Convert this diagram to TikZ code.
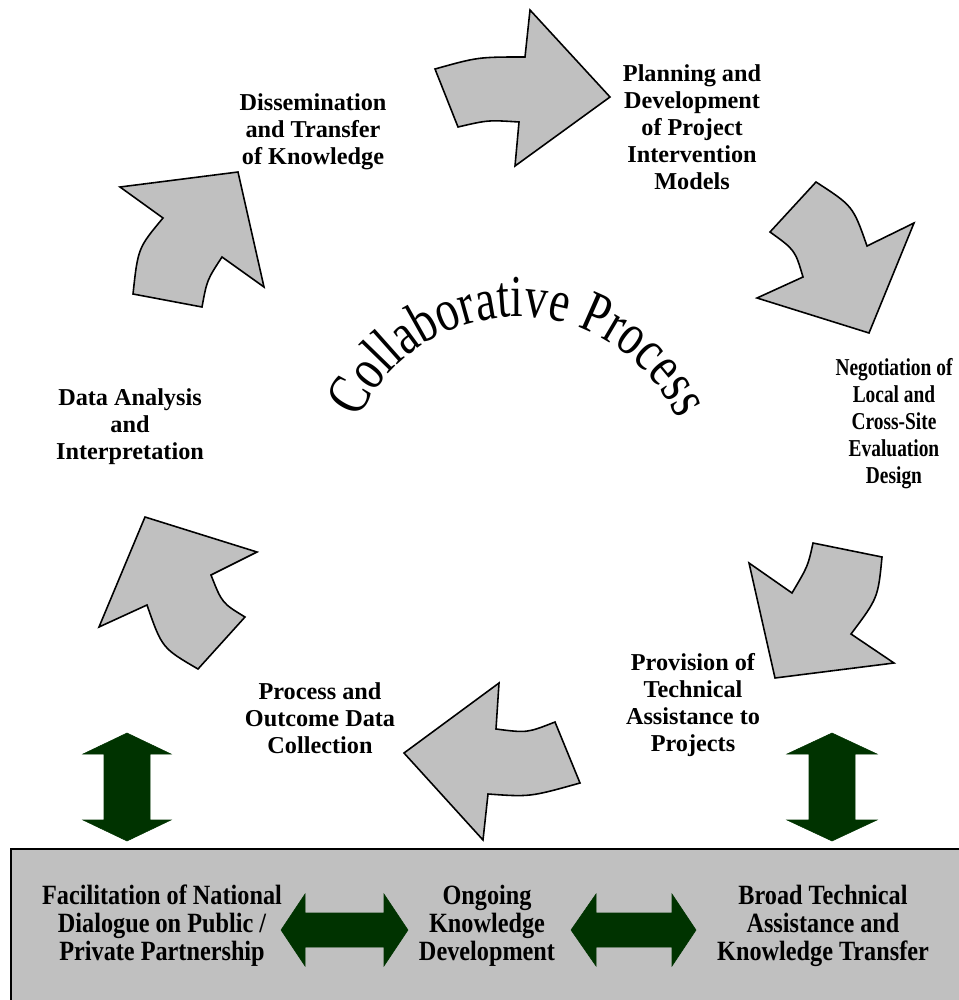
\documentclass[tikz,border=0pt]{standalone}
\usepackage{graphicx}
\usepackage{fontspec}
\setmainfont{Liberation Serif}
\usetikzlibrary{decorations.text}
\definecolor{arrowgray}{RGB}{192,192,192}
\definecolor{dkgreen}{RGB}{0,51,0}
\begin{document}
\begin{tikzpicture}[x=0.02cm,y=-0.02cm,
  cyc/.style={fill=arrowgray, draw=black, line width=0.9pt, line join=miter},
  grn/.style={fill=dkgreen, draw=dkgreen, line width=0.3pt},
  lab/.style={font=\bfseries\fontsize{13.8}{15.4}\selectfont, align=center, inner sep=0pt},
  boxlab/.style={font=\bfseries\fontsize{13.8}{13.9}\selectfont, align=center, inner sep=0pt},
]
\useasboundingbox (0,0) rectangle (958,1000);

% bottom box
\draw[fill=arrowgray, line width=1.2pt] (11,849) rectangle (980,1020);

% cycle arrows
% top (to Planning)
\draw[cyc] (435,69) .. controls (478,57) .. (525,57) -- (530,10) -- (610,97) -- (515,166) -- (519,122)
  .. controls (488,120) .. (458,127) -- cycle;
% upper right (to Negotiation)
\draw[cyc] (816,182) .. controls (853,206) .. (867,246) -- (914,223) -- (869,333) -- (757,298) -- (803,277)
  .. controls (795,250) .. (770,232) -- cycle;
% lower right (to Provision)
\draw[cyc] (813,543) -- (882,557) .. controls (878,598) .. (851,634) -- (894,663) -- (775,678) -- (749,563) -- (792,593)
  .. controls (808,566) .. (813,543) -- cycle;
% bottom (to Process)
\draw[cyc] (499,683) -- (496,729) .. controls (527,733) .. (555,722) -- (580,783)
  .. controls (530,797) .. (488,794) -- (483,840) -- (404,753) -- cycle;
% lower left (to Data Analysis)
\draw[cyc] (145,517) -- (257,552) -- (211,575) .. controls (222,603) .. (245,617) -- (198,669)
  .. controls (162,648) .. (147,605) -- (99,627) -- cycle;
% upper left (to Dissemination)
\draw[cyc] (120,187) -- (238,172) -- (264,287) -- (222,257) .. controls (207,280) .. (202,307) -- (133,294)
  .. controls (138,248) .. (163,218) -- cycle;

% green vertical double arrows
\draw[grn] (127,733) -- (171,754) -- (150,754) -- (150,820) -- (171,820) -- (127,841) -- (83,820) -- (104,820) -- (104,754) -- (83,754) -- cycle;
\draw[grn] (832,733) -- (877,754) -- (855,754) -- (855,820) -- (877,820) -- (832,841) -- (787,820) -- (809,820) -- (809,754) -- (787,754) -- cycle;
% green horizontal double arrows
\draw[grn] (281,930) -- (305,894) -- (305,913) -- (384,913) -- (384,894) -- (408,930) -- (384,966) -- (384,947) -- (305,947) -- (305,966) -- cycle;
\draw[grn] (571,930) -- (596,894) -- (596,913) -- (672,913) -- (672,894) -- (696,930) -- (672,966) -- (672,947) -- (596,947) -- (596,966) -- cycle;

% labels
\node[lab] (plan) at (692,127) {Planning and\\Development\\of Project\\Intervention\\Models};
\node[lab] (diss) at (313,132) {Dissemination\\and Transfer\\of Knowledge};
\node[lab] (nego) at (894,424) {\scalebox{0.8}[1]{\begin{tabular}{@{}c@{}}Negotiation of\\Local and\\Cross-Site\\Evaluation\\Design\end{tabular}}};
\node[lab] (data) at (130,427) {Data Analysis\\and\\Interpretation};
\node[lab] (prov) at (693,705) {Provision of\\Technical\\Assistance to\\Projects};
\node[lab] (proc) at (320,718) {Process and\\Outcome Data\\Collection};

\node[boxlab] (fac) at (162,927) {\scalebox{1}[1.15]{\begin{tabular}{@{}c@{}}Facilitation of National\\Dialogue on Public /\\Private Partnership\end{tabular}}};
\node[boxlab] (ong) at (487,927) {\scalebox{1}[1.15]{\begin{tabular}{@{}c@{}}Ongoing\\Knowledge\\Development\end{tabular}}};
\node[boxlab] (brd) at (823,927) {\scalebox{1}[1.15]{\begin{tabular}{@{}c@{}}Broad Technical\\Assistance and\\Knowledge Transfer\end{tabular}}};

% curved title
\path[decorate, decoration={text effects along path, text={Collaborative Process}, text align=center,
  text effects/.cd, text along path,
  characters={font=\fontsize{26}{30}\selectfont, yscale=1.3}}]
  (10.36cm,-9.84cm) ++(170:3.5cm) arc[start angle=170, end angle=10, radius=3.5cm];
\end{tikzpicture}
\end{document}
